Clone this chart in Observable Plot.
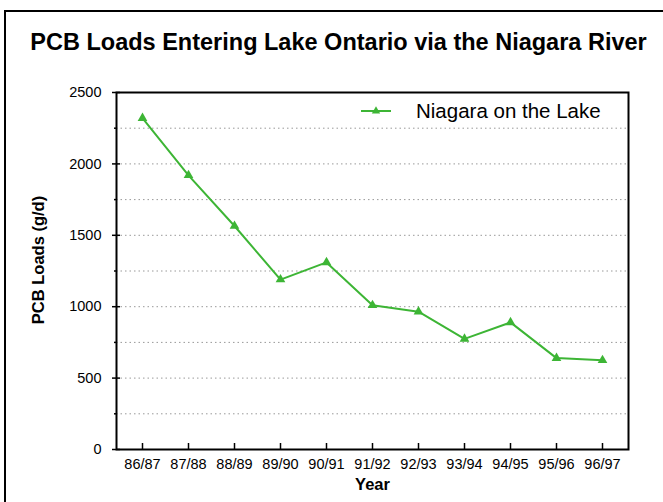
<!DOCTYPE html>
<html>
<head>
<meta charset="utf-8">
<script src="https://cdn.jsdelivr.net/npm/d3@7"></script>
<script src="https://cdn.jsdelivr.net/npm/@observablehq/plot@0.6"></script>
<style>
  html, body { margin: 0; padding: 0; background: #fff; }
  body { font-family: "Liberation Sans", Arial, Helvetica, sans-serif; }
  #page { position: relative; width: 663px; height: 502px; overflow: hidden; }
  #border { position: absolute; left: 4px; top: 10px; width: 700px; height: 600px;
            border: 2px solid #000; box-sizing: border-box; }
  #title { position: absolute; left: 7px; top: 28px; width: 663px; text-align: center;
           font-weight: bold; font-size: 23.5px; line-height: 28px; color: #000; }
  #chart { position: absolute; left: 0; top: 0; }
  #ylabel { position: absolute; left: 38px; top: 260px; transform: translate(-50%, -50%) rotate(-90deg);
            white-space: nowrap; font-weight: bold; font-size: 16.5px; color: #000; }
  #legend { position: absolute; left: 360px; top: 99px; display: flex; align-items: center;
            font-size: 20.5px; color: #000; }
  #legend svg { margin-right: 24px; }
</style>
</head>
<body>
<div id="page">
  <div id="border"></div>
  <div id="chart"></div>
  <div id="title">PCB Loads Entering Lake Ontario via the Niagara River</div>
  <div id="ylabel">PCB Loads (g/d)</div>
  <div id="legend"></div>
</div>
<script>
// Water years and PCB loads (g/d) at Niagara-on-the-Lake
const years = ["86/87", "87/88", "88/89", "89/90", "90/91", "91/92", "92/93", "93/94", "94/95", "95/96", "96/97"];
const loads = [2320, 1920, 1565, 1190, 1310, 1010, 965, 775, 890, 640, 625];
const seriesName = "Niagara on the Lake";
const xTitle = "Year";
const majorTicks = [0, 500, 1000, 1500, 2000, 2500];
const minorTicks = [250, 750, 1250, 1750, 2250];
const gridValues = [250, 500, 750, 1000, 1250, 1500, 1750, 2000, 2250];

const green = "#3db535";
const data = years.map((year, i) => ({year, load: loads[i]}));

const chart = Plot.plot({
  width: 663,
  height: 502,
  marginLeft: 116,
  marginRight: 35,
  marginTop: 92,
  marginBottom: 53,
  style: {fontFamily: '"Liberation Sans", Arial, Helvetica, sans-serif', fontSize: "14px", color: "#000", background: "transparent"},
  x: {type: "point", domain: years, padding: 0.5, label: null},
  y: {domain: [0, 2500], label: null},
  marks: [
    Plot.gridY(gridValues, {stroke: "#999", strokeOpacity: 1, strokeDasharray: "1.5,3"}),
    // major y ticks straddle the axis; minor ones sit just outside it
    Plot.axisY(majorTicks, {tickSize: 8, dx: 4, text: null, label: null, strokeWidth: 1.5}),
    Plot.axisY(minorTicks, {tickSize: 3, dx: 1, text: null, label: null, strokeWidth: 1.5}),
    Plot.axisY(majorTicks, {tickSize: 0, tickPadding: 15, label: null, tickFormat: d => String(d), fontSize: 14.5}),
    // x ticks point up into the plot
    Plot.axisX({tickSize: 6, dy: -6, text: null, label: null, strokeWidth: 1.5}),
    Plot.axisX({tickSize: 0, tickPadding: 9, label: null, fontSize: 14.5}),
    Plot.frame({stroke: "#000", strokeWidth: 2}),
    Plot.line(data, {x: "year", y: "load", stroke: green, strokeWidth: 2}),
    Plot.dot(data, {x: "year", y: "load", symbol: "triangle", r: 3.6, fill: green, stroke: "none"}),
    Plot.text([xTitle], {frameAnchor: "bottom", dy: 40, fontWeight: "bold", fontSize: 16.5})
  ]
});
document.getElementById("chart").append(chart);

// Legend entry: line-with-triangle swatch plus series name
const legend = document.getElementById("legend");
const sw = d3.create("svg").attr("width", 32).attr("height", 12);
sw.append("line").attr("x1", 1).attr("x2", 31).attr("y1", 6).attr("y2", 6)
  .attr("stroke", green).attr("stroke-width", 2);
sw.append("path").attr("d", d3.symbol(d3.symbolTriangle, 30)()).attr("transform", "translate(16,6)")
  .attr("fill", green);
legend.append(sw.node());
const label = document.createElement("span");
label.textContent = seriesName;
legend.append(label);
</script>
</body>
</html>
